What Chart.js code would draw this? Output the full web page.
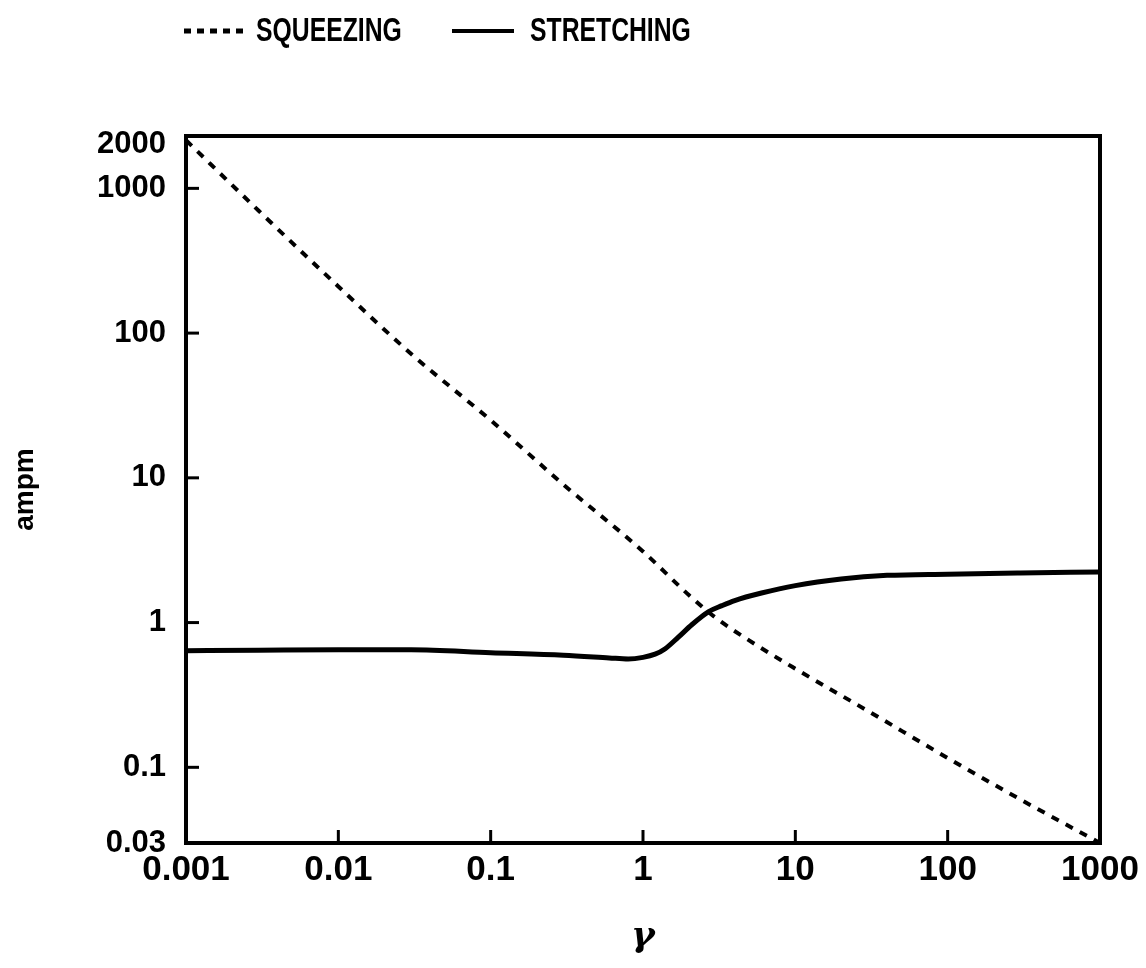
<!DOCTYPE html>
<html>
<head>
<meta charset="utf-8">
<script src="https://cdn.jsdelivr.net/npm/chart.js@4/dist/chart.umd.min.js"></script>
<style>
html,body{margin:0;padding:0;background:#fff;}
#wrap{width:1146px;height:968px;position:relative;}
</style>
</head>
<body>
<div id="wrap"><canvas id="c"></canvas></div>
<script>
// ---- data ----
const squeezeGamma  = [0.001, 0.003, 0.01, 0.03, 0.1, 0.3, 1, 2, 3, 5, 10, 30, 100, 300, 1000];
const squeezeValues = [2150, 700, 210, 72, 25, 9, 3.1, 1.55, 1.08, 0.75, 0.48, 0.245, 0.116, 0.06, 0.03];
const stretchGamma  = [0.001, 0.003, 0.01, 0.03, 0.1, 0.3, 0.6, 0.8, 1, 1.2, 1.4, 1.7, 2.1, 2.7, 3.3, 4, 6, 10, 20, 40, 100, 300, 1000];
const stretchValues = [0.64, 0.645, 0.65, 0.65, 0.62, 0.595, 0.57, 0.56, 0.575, 0.605, 0.66, 0.79, 0.97, 1.19, 1.31, 1.42, 1.6, 1.8, 2.0, 2.12, 2.16, 2.2, 2.24];
const xTickValues = [0.001, 0.01, 0.1, 1, 10, 100, 1000];
const xTickLabels = ['0.001', '0.01', '0.1', '1', '10', '100', '1000'];
const yTickValues = [0.03, 0.1, 1, 10, 100, 1000, 2000];
const yTickLabels = ['0.03', '0.1', '1', '10', '100', '1000', '2000'];
const seriesNames = ['SQUEEZING', 'STRETCHING'];
const xTitle = 'γ';
const yTitle = 'ampm';

const toPoints = (xs, ys) => xs.map((x, i) => ({x: x, y: ys[i]}));

const frameAndTicks = {
  id: 'frameAndTicks',
  afterDatasetsDraw(chart) {
    const {ctx, chartArea: a, scales} = chart;
    ctx.save();
    ctx.strokeStyle = '#000';
    ctx.lineWidth = 4;
    ctx.strokeRect(a.left, a.top, a.right - a.left, a.bottom - a.top);
    ctx.lineWidth = 3;
    const tl = 13;
    xTickValues.forEach(v => {
      if (v === 0.001 || v === 1000) return;
      const px = scales.x.getPixelForValue(v);
      ctx.beginPath(); ctx.moveTo(px, a.bottom); ctx.lineTo(px, a.bottom - tl); ctx.stroke();
    });
    yTickValues.forEach(v => {
      if (v === 0.03 || v === 2000) return;
      const py = scales.y.getPixelForValue(v);
      ctx.beginPath(); ctx.moveTo(a.left, py); ctx.lineTo(a.left + tl, py); ctx.stroke();
    });
    ctx.restore();
  }
};

const customLegend = {
  id: 'customLegend',
  afterDraw(chart) {
    const ctx = chart.ctx;
    const ds = chart.data.datasets;
    const y = 31;
    ctx.save();
    ctx.fillStyle = '#000';
    ctx.strokeStyle = '#000';
    ctx.lineWidth = 5;
    ctx.setLineDash([7, 6]);
    ctx.beginPath(); ctx.moveTo(184, y); ctx.lineTo(248, y); ctx.stroke();
    ctx.setLineDash([]);
    ctx.lineWidth = 4;
    ctx.beginPath(); ctx.moveTo(452, y); ctx.lineTo(514, y); ctx.stroke();
    ctx.font = 'bold 33px "Liberation Sans", sans-serif';
    ctx.textBaseline = 'middle';
    ctx.textAlign = 'left';
    const sx = 0.75;
    ctx.scale(sx, 1);
    ctx.fillText(ds[0].label, 256 / sx, y + 1);
    ctx.fillText(ds[1].label, 530 / sx, y + 1);
    ctx.restore();
  }
};

new Chart(document.getElementById('c'), {
  type: 'line',
  data: {
    datasets: [
      {
        label: seriesNames[0],
        data: toPoints(squeezeGamma, squeezeValues),
        borderColor: '#000',
        borderWidth: 4,
        borderDash: [8, 8],
        pointRadius: 0,
        fill: false,
        cubicInterpolationMode: 'monotone'
      },
      {
        label: seriesNames[1],
        data: toPoints(stretchGamma, stretchValues),
        borderColor: '#000',
        borderWidth: 5,
        pointRadius: 0,
        fill: false,
        cubicInterpolationMode: 'monotone'
      }
    ]
  },
  options: {
    responsive: true,
    maintainAspectRatio: false,
    animation: false,
    layout: {padding: {top: 136, right: 46, left: 0, bottom: 0}},
    plugins: {legend: {display: false}, tooltip: {enabled: false}},
    scales: {
      x: {
        type: 'logarithmic',
        min: 0.001, max: 1000,
        afterBuildTicks: s => { s.ticks = xTickValues.map(v => ({value: v})); },
        afterFit: s => { s.height = 125; s.paddingLeft = 0; s.paddingRight = 0; },
        grid: {display: false, drawTicks: false},
        border: {display: false},
        ticks: {
          autoSkip: false, maxRotation: 0, padding: 6, color: '#000',
          font: {family: '"Liberation Sans", sans-serif', size: 35, weight: 'bold'},
          callback: v => { const i = xTickValues.indexOf(v); return i >= 0 ? xTickLabels[i] : ''; }
        },
        title: {
          display: true, text: xTitle, color: '#000',
          font: {family: '"DejaVu Serif", serif', size: 36, style: 'italic', weight: 'bold'},
          padding: {top: 0, bottom: 10}
        }
      },
      y: {
        type: 'logarithmic',
        min: 0.03, max: 2300,
        afterBuildTicks: s => { s.ticks = yTickValues.map(v => ({value: v})); },
        afterFit: s => { s.width = 186; s.paddingTop = 0; s.paddingBottom = 0; },
        grid: {display: false, drawTicks: false},
        border: {display: false},
        ticks: {
          autoSkip: false, padding: 20, color: '#000',
          font: {family: '"Liberation Sans", sans-serif', size: 31, weight: 'bold'},
          callback: v => { const i = yTickValues.indexOf(v); return i >= 0 ? yTickLabels[i] : ''; }
        },
        title: {
          display: true, text: yTitle, color: '#000',
          font: {family: '"Liberation Sans", sans-serif', size: 28, weight: 'bold'},
          padding: {top: 8, bottom: 0}
        }
      }
    }
  },
  plugins: [frameAndTicks, customLegend]
});
</script>
</body>
</html>
